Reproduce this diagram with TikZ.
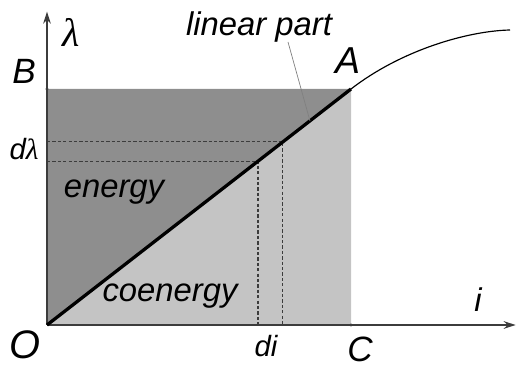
\documentclass[tikz,border=0pt]{standalone}
\usepackage{fontspec}
\setmainfont{Liberation Sans}
\newfontfamily\greekfont{Liberation Serif}
\usepackage{tikz}
\usetikzlibrary{arrows.meta, positioning, calc}
\definecolor{energygray}{RGB}{142,142,142}
\definecolor{coenergygray}{RGB}{196,196,196}
\definecolor{axisgray}{RGB}{60,60,60}
\tikzset{
  axisline/.style={draw=axisgray, line width=1.1pt, -{Stealth[length=3.6mm, width=2.3mm]}},
  guide/.style={draw=axisgray, line width=0.9pt, dash pattern=on 2.8pt off 1.8pt},
  leader/.style={draw=gray, line width=0.6pt},
  txt/.style={font=\fontsize{28}{30}\selectfont\itshape, inner sep=0pt},
  smalltxt/.style={font=\fontsize{25}{27}\selectfont\itshape, inner sep=0pt},
}

\begin{document}
\begin{tikzpicture}
\useasboundingbox (-1.41,-1.26) rectangle (14.07,9.75);
\coordinate (O) at (0,0);
\coordinate (B) at (0,7.08);
\coordinate (C) at (9.12,0);
\coordinate (A) at (9.12,7.08);
\coordinate (ytop) at (0,9.4);
\coordinate (xend) at (14.06,0);
\coordinate (sat) at (13.89,8.85);
% energy and coenergy areas
\fill[energygray] (O) -- (B) -- (A) -- cycle;
\fill[coenergygray] (O) -- (A) -- (C) -- cycle;
% small increments
\coordinate (p1) at ($(O)!0.694!(A)$);
\coordinate (p2) at ($(O)!0.776!(A)$);
\draw[guide] (O |- p1) -- (p1) -- (p1 |- O);
\draw[guide] (O |- p2) -- (p2) -- (p2 |- O);
% axes
\draw[axisline] (O) -- (ytop);
\draw[axisline] (O) -- (xend);
\fill[axisgray] (B) circle (1.4pt);
\fill[axisgray] (C) circle (1.4pt);
% characteristic
\draw[line width=2.8pt] (O) -- (A);
\draw[line width=1pt] (A) .. controls (10.62,8.24) and (12.6,8.82) .. (sat);
% labels
\node (lam) at (0.72,8.79) [font=\fontsize{34}{36}\selectfont\greekfont\itshape, inner sep=0pt] {λ};
\node (Blbl) at (-0.69,7.62) [txt, font=\fontsize{30}{32}\selectfont\itshape] {B};
\node (Albl) at (9.03,7.92) [txt, font=\fontsize{32}{34}\selectfont\itshape] {A};
\node (Olbl) at (-0.66,-0.6) [txt, font=\fontsize{34}{36}\selectfont\itshape] {O};
\node (Clbl) at (9.39,-0.72) [txt, font=\fontsize{30}{32}\selectfont\itshape] {C};
\node (ilbl) at (12.93,0.75) [txt] {i};
\node (lin) at (6.36,8.94) [txt] {linear part};
\node (en) at (2.01,4.0) [txt] {energy};
\node (coen) at (3.69,0.88) [txt] {coenergy};
\node (dlam) at (-0.69,5.28) [smalltxt] {d{\greekfont λ}};
\node (di) at (6.57,-0.62) [smalltxt] {di};
\coordinate (lead) at (7.23,8.49);
\coordinate (touch) at ($(O)!0.865!(A)$);
\draw[leader] (lead) -- (touch);
\end{tikzpicture}
\end{document}
